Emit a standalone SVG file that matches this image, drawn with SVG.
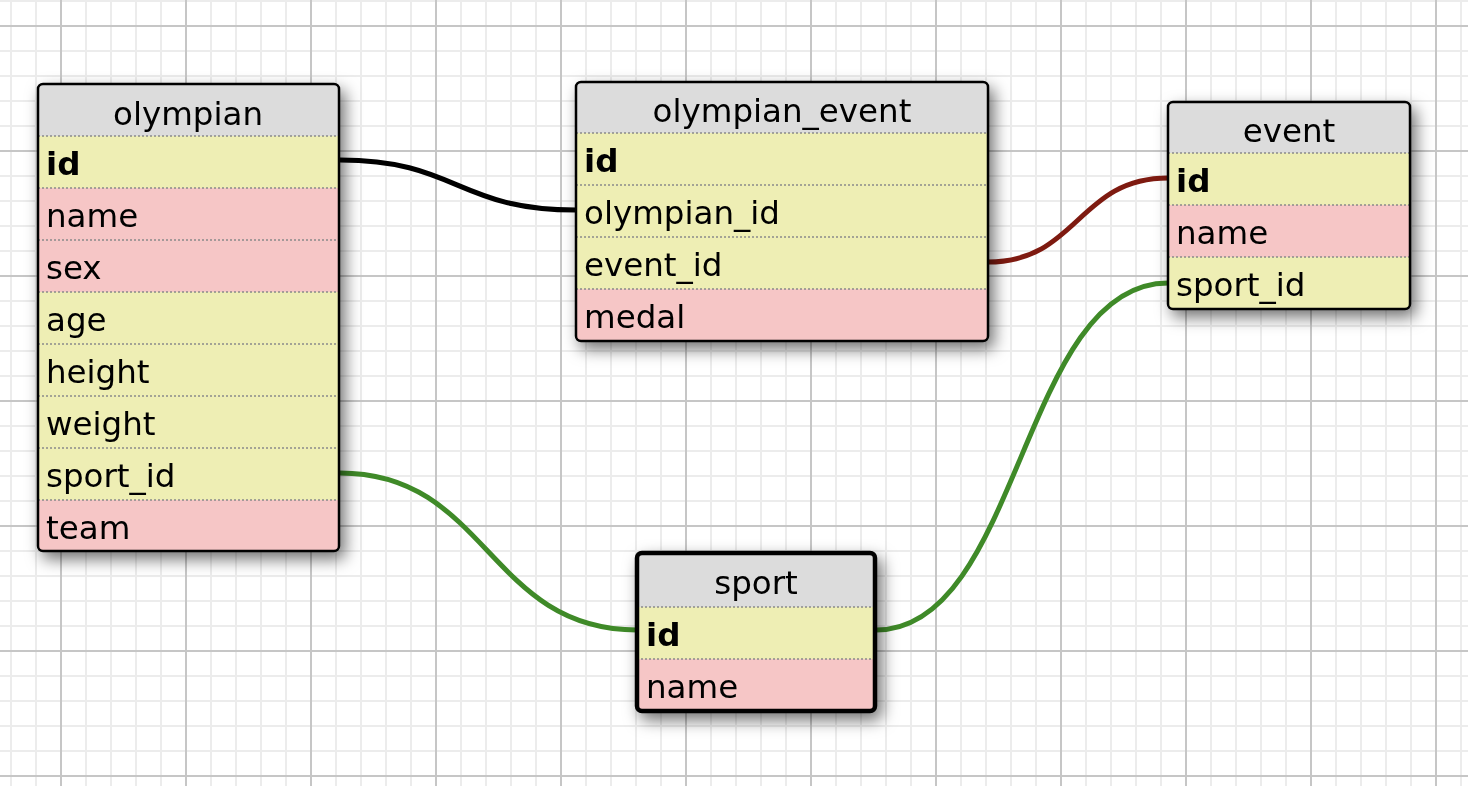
<svg xmlns="http://www.w3.org/2000/svg" width="1468" height="786" viewBox="0 0 1468 786">
<style>
.hdr{fill:#dcdcdc}
.pk{fill:#eeeeb4}
.fk{fill:#eeeeb4}
.col{fill:#f6c6c6}
.sep{stroke:#8a8a8a;stroke-width:1.5;stroke-dasharray:2 2;fill:none}
.border{fill:none;stroke:#000;stroke-width:2.5}
.sel{fill:none;stroke:#000;stroke-width:4.5}
.t{font-family:"DejaVu Sans","Liberation Sans",sans-serif;font-size:32.5px;fill:#000}
.h{text-anchor:middle}
.b{font-weight:bold}
.conn{fill:none;stroke-width:5}
</style>
<defs>
<pattern id="minor" x="10" y="0" width="25" height="25" patternUnits="userSpaceOnUse">
<path d="M1 0V25M0 1H25" stroke="#ececec" stroke-width="2"/>
</pattern>
<pattern id="major" x="60" y="25" width="125" height="125" patternUnits="userSpaceOnUse">
<path d="M1 0V125M0 1H125" stroke="#c6c6c6" stroke-width="2"/>
</pattern>
<filter id="shadow" x="-15%" y="-15%" width="140%" height="140%">
<feDropShadow dx="5" dy="7" stdDeviation="8" flood-color="#000" flood-opacity="0.55"/>
</filter>
<clipPath id="c-olympian"><rect x="38" y="84" width="301" height="467" rx="5"/></clipPath>
<clipPath id="c-oe"><rect x="576" y="82" width="412" height="259" rx="5"/></clipPath>
<clipPath id="c-event"><rect x="1168" y="102" width="242" height="207" rx="5"/></clipPath>
<clipPath id="c-sport"><rect x="637" y="553" width="238" height="158" rx="5"/></clipPath>
</defs>
<rect width="1468" height="786" fill="#fff"/>
<rect width="1468" height="786" fill="url(#minor)"/>
<rect width="1468" height="786" fill="url(#major)"/>

<g id="connectors">
<path class="conn" stroke="#000" d="M340 160C457 160 457 210 576 210"/>
<path class="conn" stroke="#7e1a10" d="M988 262C1078 262 1078 178 1168 178"/>
<path class="conn" stroke="#3f8a28" d="M340 473C488 473 488 630 637 630"/>
<path class="conn" stroke="#3f8a28" d="M876 630C1021 630 1021 283 1168 283"/>
</g>

<g id="olympian" filter="url(#shadow)">
<g clip-path="url(#c-olympian)">
<rect class="hdr" x="38" y="84" width="301" height="52"/>
<rect class="pk" x="38" y="136" width="301" height="52"/>
<rect class="col" x="38" y="188" width="301" height="104"/>
<rect class="fk" x="38" y="292" width="301" height="156"/>
<rect class="fk" x="38" y="448" width="301" height="52"/>
<rect class="col" x="38" y="500" width="301" height="52"/>
</g>
<path class="sep" d="M38 136H339M38 188H339M38 240H339M38 292H339M38 344H339M38 396H339M38 448H339M38 500H339"/>
<rect class="border" x="38" y="84" width="301" height="467" rx="5"/>
<text class="t h" x="188" y="125">olympian</text>
<text class="t b" x="46" y="175">id</text>
<text class="t" x="46" y="227">name</text>
<text class="t" x="46" y="279">sex</text>
<text class="t" x="46" y="331">age</text>
<text class="t" x="46" y="383">height</text>
<text class="t" x="46" y="435">weight</text>
<text class="t" x="46" y="487">sport_id</text>
<text class="t" x="46" y="539">team</text>
</g>

<g id="olympian_event" filter="url(#shadow)">
<g clip-path="url(#c-oe)">
<rect class="hdr" x="576" y="82" width="412" height="51"/>
<rect class="pk" x="576" y="133" width="412" height="156"/>
<rect class="col" x="576" y="289" width="412" height="52"/>
</g>
<path class="sep" d="M576 133H988M576 185H988M576 237H988M576 289H988"/>
<rect class="border" x="576" y="82" width="412" height="259" rx="5"/>
<text class="t h" x="782" y="122">olympian_event</text>
<text class="t b" x="584" y="172">id</text>
<text class="t" x="584" y="224">olympian_id</text>
<text class="t" x="584" y="276">event_id</text>
<text class="t" x="584" y="328">medal</text>
</g>

<g id="event" filter="url(#shadow)">
<g clip-path="url(#c-event)">
<rect class="hdr" x="1168" y="102" width="242" height="51"/>
<rect class="pk" x="1168" y="153" width="242" height="52"/>
<rect class="col" x="1168" y="205" width="242" height="52"/>
<rect class="fk" x="1168" y="257" width="242" height="52"/>
</g>
<path class="sep" d="M1168 153H1410M1168 205H1410M1168 257H1410"/>
<rect class="border" x="1168" y="102" width="242" height="207" rx="5"/>
<text class="t h" x="1289" y="142">event</text>
<text class="t b" x="1176" y="192">id</text>
<text class="t" x="1176" y="244">name</text>
<text class="t" x="1176" y="296">sport_id</text>
</g>

<g id="sport" filter="url(#shadow)">
<g clip-path="url(#c-sport)">
<rect class="hdr" x="637" y="553" width="238" height="54"/>
<rect class="pk" x="637" y="607" width="238" height="52"/>
<rect class="col" x="637" y="659" width="238" height="52"/>
</g>
<path class="sep" d="M637 607H875M637 659H875"/>
<rect class="sel" x="637" y="553" width="238" height="158" rx="5"/>
<text class="t h" x="756" y="594">sport</text>
<text class="t b" x="646" y="646">id</text>
<text class="t" x="646" y="698">name</text>
</g>
</svg>
